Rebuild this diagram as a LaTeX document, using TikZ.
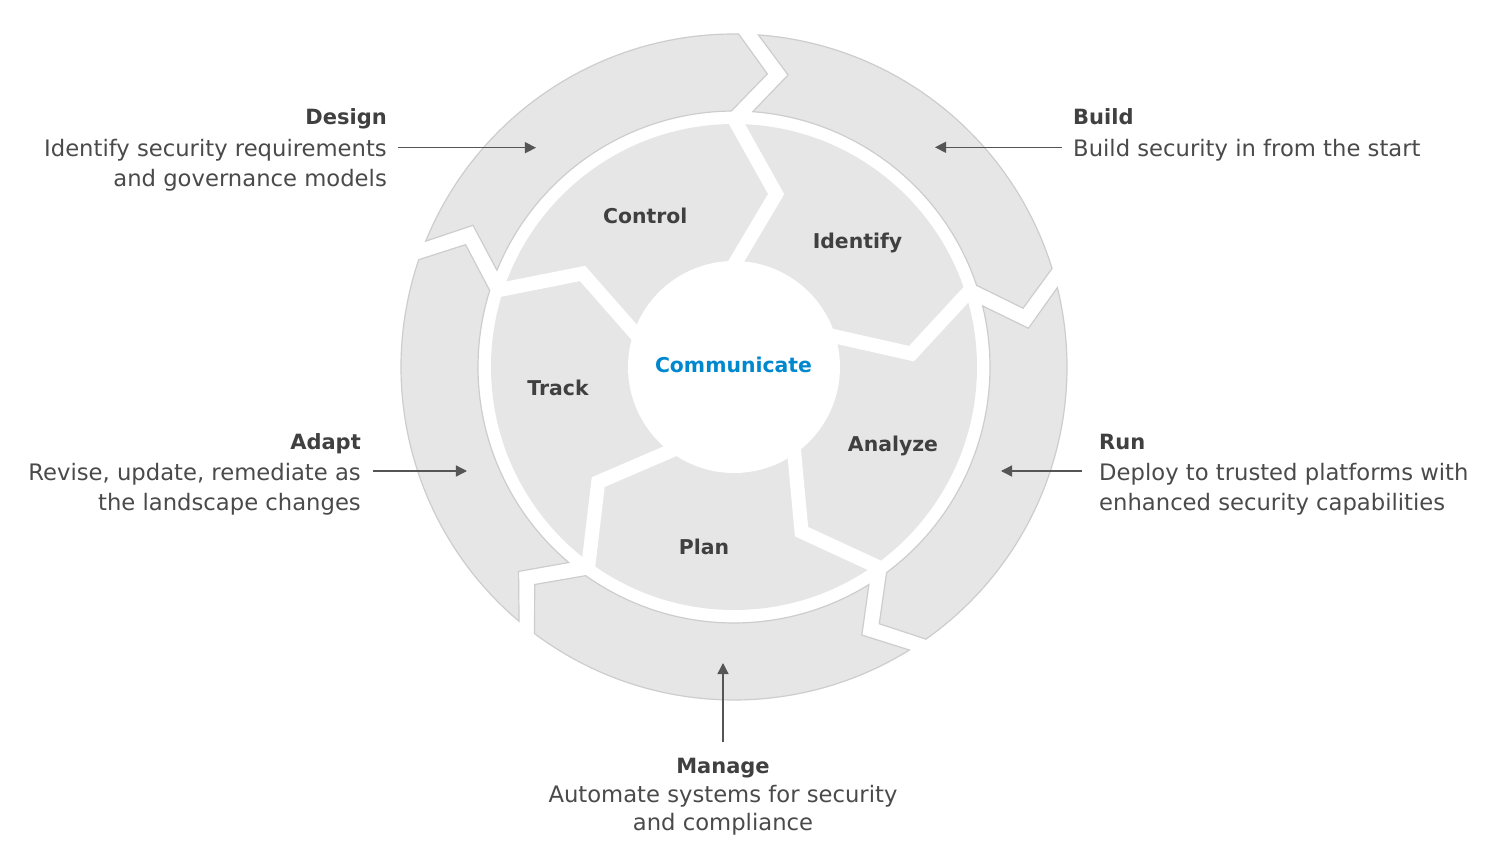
\documentclass[tikz,border=0pt]{standalone}
\usepackage{fontspec}
\setmainfont{DejaVu Sans}
\usetikzlibrary{arrows.meta,calc}
\definecolor{ringfill}{HTML}{E6E6E6}
\definecolor{ringedge}{HTML}{CDCDCD}
\definecolor{txt}{HTML}{4A4A4A}
\definecolor{ttl}{HTML}{404040}
\definecolor{rhblue}{HTML}{0088CE}
\definecolor{arrowc}{HTML}{555555}
\begin{document}
\begin{tikzpicture}[x=1pt,y=1pt,
  piece/.style={fill=ringfill, draw=ringedge, line width=1.2pt, line join=miter},
  divider/.style={draw=white, line width=14pt, line join=miter},
  desc/.style={inner sep=0pt, text=txt, font=\fontsize{22.7}{29}\selectfont},
  ttlnode/.style={inner sep=0pt, text=ttl, font=\fontsize{21}{29}\selectfont\bfseries},
  inlabel/.style={inner sep=0pt, text=ttl, font=\fontsize{20.4}{24}\selectfont\bfseries},
  arr/.style={draw=arrowc, line width=1.3pt, -{Triangle[length=11pt,width=11pt]}}]

\useasboundingbox (-734pt,-485pt) rectangle (766pt,367pt);

% outer ring of five arrow pieces
\foreach \k in {0,...,4}{
  \pgfmathsetmacro{\aso}{90-72*\k-4.2}
  \pgfmathsetmacro{\asn}{90-72*\k-10.5}
  \pgfmathsetmacro{\asi}{90-72*\k-4.2}
  \pgfmathsetmacro{\aeo}{90-72*\k-72.8}
  \pgfmathsetmacro{\aet}{90-72*\k-78.5}
  \pgfmathsetmacro{\aei}{90-72*\k-71.4}
  \path[piece] (\aso:333pt) arc[start angle=\aso, end angle=\aeo, radius=333pt]
     -- (\aet:295pt) -- (\aei:256pt)
     arc[start angle=\aei, end angle=\asi, radius=256pt]
     -- (\asn:297pt) -- cycle;
}

% inner ring
\fill[ringfill] (0,0) circle (243pt);
\foreach \k in {0,...,4}{
  \pgfmathsetmacro{\ai}{90-72*\k-1.3}
  \pgfmathsetmacro{\ak}{90-72*\k-13.7}
  \pgfmathsetmacro{\ao}{90-72*\k-0.7}
  \coordinate (I\k) at (\ai:106pt);
  \coordinate (K\k) at (\ak:178pt);
  \coordinate (O\k) at (\ao:243pt);
  \draw[divider] ($(K\k)!1.2!(I\k)$) -- (K\k) -- ($(K\k)!1.08!(O\k)$);
}
\fill[white] (0,0) circle (106pt);

% inner labels
\node[inlabel, anchor=base] (control) at (-88.7,143.7) {Control};
\node[inlabel, anchor=base] (identify) at (123.5,118.7) {Identify};
\node[inlabel, anchor=base] (track) at (-176,-28.5) {Track};
\node[inlabel, anchor=base] (analyze) at (159,-84.5) {Analyze};
\node[inlabel, anchor=base] (plan) at (-30,-187.5) {Plan};
\node[inlabel, anchor=base, text=rhblue] (comm) at (-0.5,-5.7) {Communicate};

% Design
\node[ttlnode, anchor=base east] (dt) at (-347,242) {Design};
\node[desc, anchor=base east] (d1) at (-347,210.5) {Identify security requirements};
\node[desc, anchor=base east] (d2) at (-347,181) {and governance models};
\coordinate (dtip) at (-198,219.3);
\draw[arr] ([shift={(11,8.8)}]d1.base east) -- (dtip);

% Build
\node[ttlnode, anchor=base west] (bt) at (339,242.5) {Build};
\node[desc, anchor=base west] (b1) at (339,210.5) {Build security in from the start};
\coordinate (btip) at (201,219.7);
\draw[arr] ([shift={(-11,9.2)}]b1.base west) -- (btip);

% Run
\node[ttlnode, anchor=base west] (rt) at (365,-82) {Run};
\node[desc, anchor=base west] (r1) at (365,-113) {Deploy to trusted platforms with};
\node[desc, anchor=base west] (r2) at (365,-143) {enhanced security capabilities};
\coordinate (rtip) at (267,-104);
\draw[arr] ([shift={(-17,9)}]r1.base west) -- (rtip);

% Adapt
\node[ttlnode, anchor=base east] (at) at (-373,-82) {Adapt};
\node[desc, anchor=base east] (a1) at (-373,-113) {Revise, update, remediate as};
\node[desc, anchor=base east] (a2) at (-373,-143) {the landscape changes};
\coordinate (atip) at (-267,-104);
\draw[arr] ([shift={(12,9)}]a1.base east) -- (atip);

% Manage
\node[ttlnode, anchor=base] (mt) at (-11,-406) {Manage};
\node[desc, anchor=base] (m1) at (-11,-435.5) {Automate systems for security};
\node[desc, anchor=base] (m2) at (-11,-463.5) {and compliance};
\coordinate (mtip) at (-11,-296);
\draw[arr] ([yshift=31]mt.base) -- (mtip);
\end{tikzpicture}
\end{document}
